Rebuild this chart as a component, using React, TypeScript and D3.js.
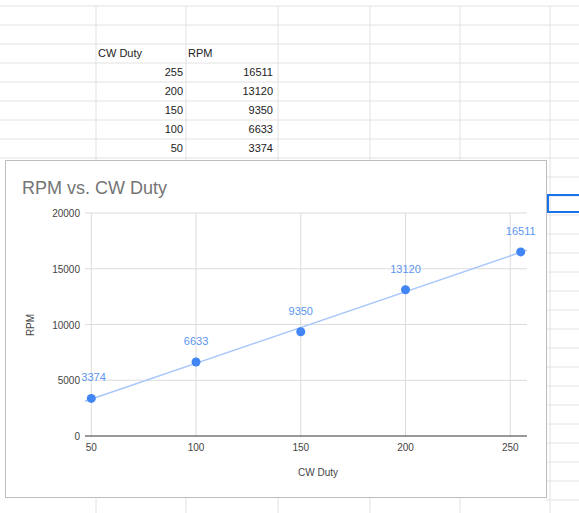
import React from 'react';
import * as d3 from 'd3';

const duty = [255, 200, 150, 100, 50];
const rpm = [16511, 13120, 9350, 6633, 3374];
const yTicks = [0, 5000, 10000, 15000, 20000];
const xTicks = [50, 100, 150, 200, 250];

const W = 579;
const H = 513;
const FONT = '"Liberation Sans", Arial, sans-serif';

export default function App() {
  document.body.style.margin = '0';
  const colLines = [96, 186, 278, 370, 460, 550];
  const rowLines = [6, 25, 44, 63, 82, 101, 120, 139, 158];
  const sideRows = d3.range(0, 18).map((i) => 177 + i * 19);

  const x = d3.scaleLinear().domain([47, 258]).range([85, 527]);
  const y = d3.scaleLinear().domain([0, 20000]).range([436, 213]);

  // least squares trendline
  const mx = d3.mean(duty)!;
  const my = d3.mean(rpm)!;
  const slope = d3.sum(duty.map((d, i) => (d - mx) * (rpm[i] - my))) / d3.sum(duty.map((d) => (d - mx) ** 2));
  const icpt = my - slope * mx;
  const [d0, d1] = x.domain();
  const rows = duty.map((d, i) => ({ d, r: rpm[i] }));

  return (
    <svg width={W} height={H} style={{ display: 'block', fontFamily: FONT }}>
      <rect width={W} height={H} fill="#fff" />
      {/* sheet grid */}
      {rowLines.map((ry) => (
        <line key={ry} x1={0} x2={W} y1={ry} y2={ry} stroke="#e2e2e2" />
      ))}
      {sideRows.map((ry) => (
        <line key={ry} x1={546} x2={W} y1={ry} y2={ry} stroke="#e2e2e2" />
      ))}
      {colLines.map((cx) => (
        <line key={cx} x1={cx} x2={cx} y1={6} y2={H} stroke="#e2e2e2" />
      ))}
      <text x={98} y={57} fontSize={11} fill="#222">CW Duty</text>
      <text x={188} y={57} fontSize={11} fill="#222">RPM</text>
      {rows.map((r, i) => (
        <g key={r.d} fontSize={11} fill="#222" textAnchor="end">
          <text x={183} y={76 + i * 19}>{r.d}</text>
          <text x={273} y={76 + i * 19}>{r.r}</text>
        </g>
      ))}
      <rect x={548} y={195} width={40} height={17} fill="none" stroke="#1a73e8" strokeWidth={2} />

      {/* chart */}
      <rect x={5.5} y={160.5} width={541} height={337} fill="#fff" stroke="#bdbdbd" />
      <text x={22} y={194} fontSize={18} fill="#757575">RPM vs. CW Duty</text>
      {xTicks.map((t) => (
        <g key={t}>
          <line x1={x(t)} x2={x(t)} y1={y(20000)} y2={y(0)} stroke="#dcdcdc" />
          <text x={x(t)} y={451} fontSize={10} fill="#444" textAnchor="middle">{t}</text>
        </g>
      ))}
      {yTicks.map((t) => (
        <g key={t}>
          <line x1={x(d0)} x2={x(d1)} y1={y(t)} y2={y(t)} stroke={t === 0 ? '#333' : '#dcdcdc'} />
          <text x={80} y={y(t) + 4} fontSize={10} fill="#444" textAnchor="end">{t}</text>
        </g>
      ))}
      <text x={318} y={476} fontSize={10} fill="#444" textAnchor="middle">CW Duty</text>
      <text transform="translate(34,325) rotate(-90)" fontSize={10} fill="#444" textAnchor="middle">RPM</text>
      <line
        x1={x(d0)} y1={y(slope * d0 + icpt)} x2={x(d1)} y2={y(slope * d1 + icpt)}
        stroke="#a8c7fa" strokeWidth={1.5}
      />
      {rows.map((r) => (
        <g key={r.d}>
          <circle cx={x(r.d)} cy={y(r.r)} r={4.5} fill="#4285f4" />
          <text x={x(r.d)} y={y(r.r) - 17} fontSize={11} fill="#5b95f0" textAnchor={r.d === 50 ? 'start' : 'middle'} dx={r.d === 50 ? -10 : 0}>{r.r}</text>
        </g>
      ))}
    </svg>
  );
}
